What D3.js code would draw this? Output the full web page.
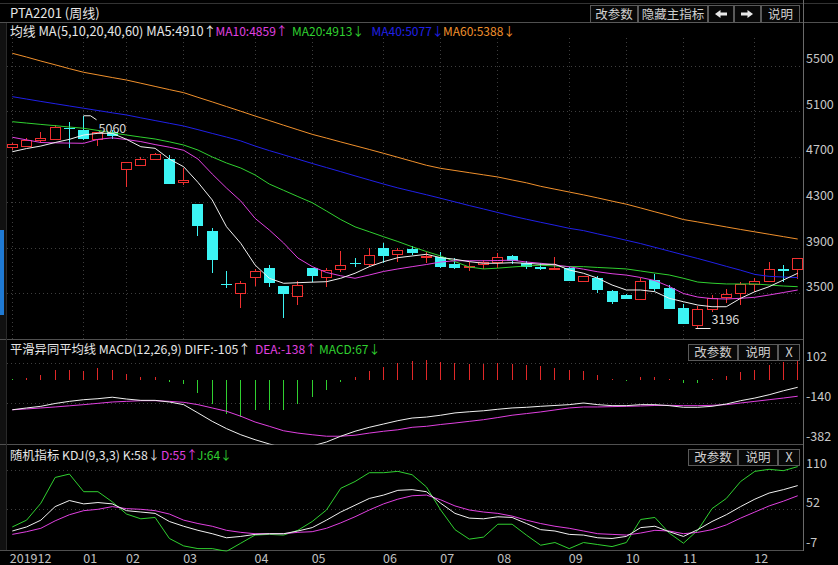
<!DOCTYPE html>
<html><head><meta charset="utf-8">
<script src="https://cdn.jsdelivr.net/npm/d3@7"></script>
<style>body{margin:0;background:#000;}svg{display:block;}</style>
</head><body><svg id="c" width="838" height="565"></svg>
<script>
// ---- data (weekly, 2019-12 .. 2020-12) ----
const opens  = [4779,4797,4847,4862,4955,4935,4856,4920,4592,4621,4680,4677,4475,4285,4050,3584,3505,3646,3720,3564,3476,3720,3646,3714,3769,3755,3895,3843,3887,3816,3816,3755,3728,3757,3769,3828,3764,3734,3711,3725,3611,3637,3520,3485,3447,3617,3549,3373,3221,3368,3470,3505,3579,3608,3711,3711];
const highs  = [4823,4867,4915,4979,5008,5060,4920,4935,4656,4695,4735,4715,4598,4285,4071,3699,3608,3711,3749,3564,3608,3720,3720,3874,3813,3895,3939,3895,3916,3866,3860,3808,3772,3793,3851,3840,3786,3769,3816,3740,3655,3652,3525,3494,3632,3667,3573,3406,3388,3485,3535,3602,3632,3772,3749,3810];
const lows   = [4759,4788,4818,4856,4774,4847,4797,4853,4431,4619,4677,4463,4452,4006,3681,3544,3368,3567,3558,3280,3397,3597,3558,3685,3728,3734,3764,3778,3837,3764,3725,3711,3699,3714,3720,3757,3716,3705,3705,3608,3608,3505,3403,3447,3441,3523,3359,3230,3196,3338,3412,3397,3514,3602,3597,3623];
const closes = [4809,4847,4862,4964,4941,4858,4915,4885,4651,4678,4724,4463,4496,4094,3793,3570,3593,3696,3593,3494,3573,3655,3705,3749,3757,3837,3830,3880,3857,3828,3734,3725,3740,3772,3816,3781,3728,3711,3720,3611,3652,3529,3426,3450,3608,3538,3362,3230,3359,3461,3494,3582,3608,3711,3702,3808];

const ma5  = [4744,4772,4794,4825,4853,4891,4906,4906,4853,4788,4774,4680,4612,4475,4320,4085,3939,3749,3632,3588,3593,3598,3602,3632,3676,3734,3778,3813,3828,3843,3813,3799,3778,3764,3764,3769,3764,3755,3755,3705,3676,3632,3573,3529,3529,3514,3456,3426,3397,3382,3382,3456,3514,3558,3617,3676];
const ma10 = [4871,4848,4825,4822,4820,4818,4853,4866,4851,4833,4807,4784,4757,4680,4548,4425,4311,4159,4056,3942,3810,3735,3683,3654,3632,3661,3692,3714,3734,3753,3775,3786,3786,3786,3788,3791,3775,3764,3749,3733,3712,3689,3672,3660,3639,3612,3560,3498,3467,3453,3450,3456,3465,3485,3507,3529];
const ma20 = [5008,4996,4984,4973,4961,4950,4931,4910,4891,4873,4856,4831,4803,4759,4698,4645,4601,4540,4460,4405,4350,4296,4223,4148,4084,4041,3997,3955,3909,3867,3828,3778,3731,3714,3721,3731,3740,3747,3740,3735,3734,3727,3721,3714,3696,3678,3661,3632,3599,3589,3582,3582,3582,3573,3564,3558];
const ma40 = [5228,5207,5186,5166,5146,5126,5106,5086,5067,5042,5018,4994,4970,4938,4905,4873,4839,4794,4754,4717,4679,4641,4605,4569,4532,4496,4460,4426,4396,4366,4335,4303,4271,4241,4210,4179,4151,4124,4098,4071,4051,4022,3995,3966,3937,3904,3871,3838,3806,3772,3737,3703,3666,3649,3643,3638];
const ma60 = [5609,5576,5541,5508,5474,5442,5419,5396,5374,5346,5318,5290,5263,5222,5182,5141,5100,5058,5018,4977,4937,4897,4864,4830,4797,4764,4730,4695,4660,4625,4598,4579,4560,4541,4522,4496,4471,4440,4415,4390,4365,4338,4310,4283,4250,4216,4183,4148,4127,4105,4083,4061,4040,4019,3998,3977];

const macdHist = [0,12,30,62,62,56,70,62,36,16,20,-14,-24,-81,-145,-206,-222,-182,-182,-182,-145,-105,-60,-10,16,56,76,101,117,121,107,101,97,97,103,97,91,81,73,60,52,32,6,-4,16,16,6,-20,-20,4,26,50,62,91,107,121];
const diffValues = [-181,-170,-160,-143,-130,-120,-114,-105,-116,-124,-124,-134,-150,-200,-251,-295,-332,-362,-388,-412,-418,-400,-376,-341,-311,-287,-267,-247,-231,-225,-214,-200,-193,-187,-178,-170,-166,-160,-155,-150,-140,-150,-156,-156,-150,-150,-156,-166,-166,-160,-146,-126,-110,-90,-66,-45];
const deaValues  = [-181,-176,-170,-164,-157,-150,-142,-134,-130,-126,-126,-130,-136,-150,-170,-190,-220,-255,-281,-308,-322,-332,-341,-341,-335,-322,-311,-302,-287,-281,-270,-261,-251,-241,-228,-214,-204,-194,-182,-170,-164,-164,-162,-160,-158,-155,-154,-156,-156,-154,-150,-140,-130,-120,-110,-99];

const kValues = [20,26,36,56,65,60,62,60,50,48,46,34,27,21,16,10,12,15,16,16,20,25,36,48,58,68,73,80,81,78,61,46,39,38,41,40,31,22,20,15,14,10,9,12,25,27,19,12,22,34,44,56,67,76,81,87];
const dValues = [15,19,24,35,44,50,52,56,53,52,50,45,36,31,27,21,18,16,16,16,18,19,24,32,41,51,60,67,72,73,66,57,51,48,46,42,36,31,27,24,20,16,15,14,17,21,20,16,18,22,29,39,48,57,64,72];
const jValues = [26,36,61,99,104,78,78,63,45,38,40,9,-2,-6,-6,-10,2,14,15,14,21,34,51,83,93,106,106,108,103,85,51,22,8,11,30,30,14,-1,3,-6,3,0,-3,3,37,40,17,2,21,53,68,93,108,111,109,115];

const monthTicks  = [0,5,8,12,17,21,26,30,34,39,43,47,52];
const monthLabels = ["201912","01","02","03","04","05","06","07","08","09","10","11","12"];
const priceTicks = [3500,3900,4300,4700,5100,5500];
const macdTicks  = [102,-140,-382];
const kdjTicks   = [110,52,-7];

// ---- drawing ----
const FONT = '"Noto Sans CJK SC","Noto Sans",sans-serif';
const RED="#f03030", CYAN="#3cf4f4", GREEN="#30d030", MAG="#e040e0", BLUE="#2020e8", ORANGE="#f0902c", WHITE="#f0f0f0";
const GRID="#3e3e3e", BORDER="#505050";
const W=838, H=565, PL=6.5, PR=803.5;

const svg=d3.select("#c");
svg.append("rect").attr("width",W).attr("height",H).attr("fill","#000");

const x=d3.scaleBand().domain(d3.range(closes.length)).range([5.16,804.84]);
const cx=i=>x(i)+x.bandwidth()/2;
const px=i=>Math.floor(cx(i))+0.5;
const yMain=d3.scaleLinear().domain([3500,5500]).range([293.3,65.7]);
const yMacd=d3.scaleLinear().domain([-140,102]).range([403,363]);
const yKdj=d3.scaleLinear().domain([-7,110]).range([549.3,470]);

const defs=svg.append("defs");
function clip(id,y0,y1){defs.append("clipPath").attr("id",id).append("rect").attr("x",PL).attr("y",y0).attr("width",PR-PL).attr("height",y1-y0);}
clip("cMain",23,339); clip("cMacd",340,444.5); clip("cKdj",445,551.5);

// left strip & scroll marker
svg.append("rect").attr("x",0).attr("y",23).attr("width",6).attr("height",527).attr("fill","#111");
svg.append("rect").attr("x",0).attr("y",230).attr("width",4).attr("height",85).attr("fill","#1f7ad4");

// grids
const gGrid=svg.append("g").attr("stroke",GRID).attr("stroke-dasharray","1,3").attr("shape-rendering","crispEdges");
priceTicks.forEach(v=>gGrid.append("line").attr("x1",PL).attr("x2",PR).attr("y1",Math.round(yMain(v))+0.5).attr("y2",Math.round(yMain(v))+0.5));
monthTicks.forEach(i=>gGrid.append("line").attr("x1",px(i)).attr("x2",px(i)).attr("y1",38).attr("y2",339));
[102,-140].forEach(v=>gGrid.append("line").attr("x1",PL).attr("x2",PR).attr("y1",Math.round(yMacd(v))+0.5).attr("y2",Math.round(yMacd(v))+0.5));
[110,52].forEach(v=>gGrid.append("line").attr("x1",PL).attr("x2",PR).attr("y1",Math.round(yKdj(v))+0.5).attr("y2",Math.round(yKdj(v))+0.5));

// borders
const gB=svg.append("g").attr("stroke",BORDER).attr("shape-rendering","crispEdges");
gB.append("line").attr("x1",0).attr("x2",W).attr("y1",3.5).attr("y2",3.5).attr("stroke","#333");
gB.append("line").attr("x1",0).attr("x2",W).attr("y1",22.5).attr("y2",22.5);
gB.append("line").attr("x1",0).attr("x2",PR).attr("y1",339.5).attr("y2",339.5);
gB.append("line").attr("x1",0).attr("x2",PR).attr("y1",444.5).attr("y2",444.5);
gB.append("line").attr("x1",0).attr("x2",PR).attr("y1",550.5).attr("y2",550.5);
gB.append("line").attr("x1",PR).attr("x2",PR).attr("y1",0).attr("y2",551).attr("stroke","#6a6a6a");
gB.append("line").attr("x1",PL).attr("x2",PL).attr("y1",23).attr("y2",550).attr("stroke","#2a2a2a");

// candles
const candles=d3.range(closes.length).map(i=>({i,o:opens[i],h:highs[i],l:lows[i],c:closes[i],up:closes[i]>=opens[i]}));
const gC=svg.append("g").attr("clip-path","url(#cMain)").attr("shape-rendering","crispEdges");
gC.selectAll("line.w").data(candles).join("line").attr("class","w")
  .attr("x1",d=>px(d.i)).attr("x2",d=>px(d.i)).attr("y1",d=>yMain(d.h)).attr("y2",d=>yMain(d.l))
  .attr("stroke",d=>d.up?RED:CYAN);
gC.selectAll("rect.b").data(candles).join("rect").attr("class","b")
  .attr("x",d=>d.up?px(d.i)-5:px(d.i)-5.5)
  .attr("width",d=>d.up?10:11)
  .attr("y",d=>d.up?Math.round(yMain(Math.max(d.o,d.c)))+0.5:yMain(Math.max(d.o,d.c)))
  .attr("height",d=>Math.max(d.up?1:1.5,Math.abs(yMain(d.o)-yMain(d.c))))
  .attr("fill",d=>d.up?"#000":CYAN).attr("stroke",d=>d.up?RED:"none");

// MA lines
const lineMain=d3.line().x((d,i)=>cx(i)).y(d=>yMain(d));
const gMA=svg.append("g").attr("clip-path","url(#cMain)").attr("fill","none").attr("stroke-width",1);
[[ma60,ORANGE],[ma40,BLUE],[ma20,GREEN],[ma10,MAG],[ma5,WHITE]].forEach(([arr,col])=>gMA.append("path").attr("d",lineMain(arr)).attr("stroke",col));

// high / low markers
const hiI=d3.maxIndex(highs), loI=d3.minIndex(lows);
const yh=yMain(highs[hiI]), yl=yMain(lows[loI]);
svg.append("path").attr("d",`M${px(hiI)},${yh}h7l6,4`).attr("stroke",WHITE).attr("fill","none");
svg.append("text").attr("x",px(hiI)+15).attr("y",yh+17).text(highs[hiI]).attr("fill","#d8d8d8").attr("font-size",12.5).attr("font-family",FONT);
svg.append("path").attr("d",`M${px(loI)-2},${Math.round(yl)+0.5}H${px(loI)+13}`).attr("stroke",WHITE).attr("fill","none");
svg.append("text").attr("x",px(loI)+14).attr("y",yl-3.5).text(lows[loI]).attr("fill","#d8d8d8").attr("font-size",12.5).attr("font-family",FONT);

// MACD
const gM=svg.append("g").attr("clip-path","url(#cMacd)");
gM.selectAll("line").data(macdHist).join("line")
  .attr("x1",(d,i)=>px(i)).attr("x2",(d,i)=>px(i))
  .attr("y1",yMacd(0)).attr("y2",d=>yMacd(d)===yMacd(0)?yMacd(0)-1:yMacd(d))
  .attr("stroke",(d,i)=>d>0?"#e02828":GREEN).attr("shape-rendering","crispEdges");
const lineMacd=d3.line().x((d,i)=>cx(i)).y(d=>yMacd(d));
gM.append("path").attr("d",lineMacd(deaValues)).attr("stroke",MAG).attr("fill","none");
gM.append("path").attr("d",lineMacd(diffValues)).attr("stroke",WHITE).attr("fill","none");

// KDJ
const gK=svg.append("g").attr("clip-path","url(#cKdj)").attr("fill","none");
const lineKdj=d3.line().x((d,i)=>cx(i)).y(d=>yKdj(d));
gK.append("path").attr("d",lineKdj(jValues)).attr("stroke",GREEN);
gK.append("path").attr("d",lineKdj(dValues)).attr("stroke",MAG);
gK.append("path").attr("d",lineKdj(kValues)).attr("stroke",WHITE);

// axes
function yAxis(scale,ticks){
  const g=svg.append("g").attr("transform",`translate(${PR+1.5},0)`)
    .call(d3.axisRight(scale).tickValues(ticks).tickSize(0).tickPadding(1).tickFormat(d=>String(d)));
  g.select(".domain").remove();
  g.selectAll("text").attr("fill","#c8c8c8").attr("font-size",12.5).attr("font-family",FONT).attr("dy","-0.22em");
}
yAxis(yMain,priceTicks); yAxis(yMacd,macdTicks); yAxis(yKdj,kdjTicks);

const gx=svg.append("g")
  .call(d3.axisBottom(x).tickValues(monthTicks).tickSize(0).tickFormat((d,k)=>monthLabels[k]));
gx.select(".domain").remove();
gx.selectAll("text").attr("fill","#c0c0c0").attr("font-size",12.5).attr("font-family",FONT)
  .attr("text-anchor","start").attr("y",562.5).attr("dy",0).attr("x",(d,k)=>k===0?-2.5:-0.5);

// header texts
function txt(s,xx,yy,col,size){return svg.append("text").attr("x",xx).attr("y",yy).text(s).attr("fill",col).attr("font-size",size||12).attr("font-family",FONT);}
txt("PTA2201 (周线)",10,17.5,"#e6e6e6",13);
txt("均线 MA(5,10,20,40,60) MA5:4910↑",10,35.5,"#e6e6e6",12.8);
txt("MA10:4859↑",215.5,35.5,MAG);
txt("MA20:4913↓",292,35.5,GREEN);
txt("MA40:5077↓",371.5,35.5,BLUE);
txt("MA60:5388↓",443,35.5,ORANGE);

txt("平滑异同平均线 MACD(12,26,9) DIFF:-105↑",10,354,"#e6e6e6",12.3);
txt("DEA:-138↑",255,354,MAG);
txt("MACD:67↓",319,354,GREEN);

txt("随机指标 KDJ(9,3,3) K:58↓",10,459.5,"#e6e6e6",12.3);
txt("D:55↑",161,459.5,MAG);
txt("J:64↓",197,459.5,GREEN);

// buttons
function btn(x0,x1,y0,y1,label){
  svg.append("rect").attr("x",x0+0.5).attr("y",y0+0.5).attr("width",x1-x0-1).attr("height",y1-y0-1)
    .attr("fill","#080808").attr("stroke","#5a5a5a");
  if(label) svg.append("text").attr("x",(x0+x1)/2).attr("y",(y0+y1)/2+4.5).attr("text-anchor","middle")
    .text(label).attr("fill","#cfcfcf").attr("font-size",12.5).attr("font-family",FONT);
}
btn(590,638,5,23,"改参数"); btn(638,708,5,23,"隐藏主指标"); btn(708,734,5,23,""); btn(734,761,5,23,""); btn(761,800,5,23,"说明");
svg.append("path").attr("d","M715,14 L720.5,10 V12.5 H727 V15.5 H720.5 V18 Z").attr("fill","#e8e8e8");
svg.append("path").attr("d","M753,14 L747.5,10 V12.5 H741 V15.5 H747.5 V18 Z").attr("fill","#e8e8e8");
[[344,361],[449,466]].forEach(([a,b])=>{btn(688,738,a,b,"改参数"); btn(738,778,a,b,"说明"); btn(778,800,a,b,"X");});
</script></body></html>
